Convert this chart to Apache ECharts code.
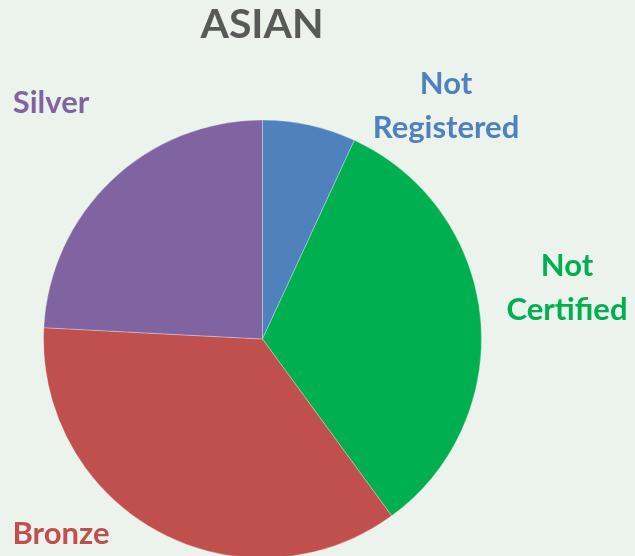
<!DOCTYPE html>
<html>
<head>
<meta charset="utf-8">
<script src="https://cdn.jsdelivr.net/npm/echarts@6/dist/echarts.min.js"></script>
<style>
  html, body { margin: 0; padding: 0; background: #ECF3EC; }
  #chart { width: 635px; height: 556px; }
</style>
</head>
<body>
<div id="chart"></div>
<script>
// slices, clockwise from 12 o'clock (share of total, %)
const categories = ['Not\nRegistered', 'Not\nCertified', 'Bronze', 'Silver'];
const shares = [6.9, 33.1, 35.9, 24.2];
const colors = ['#4F81BD', '#00B050', '#C0504D', '#8064A2'];

// where each label sits (label centre, px)
const labelPos = [[446, 106], [567, 288], [61, 534], [51, 103]];

const chart = echarts.init(document.getElementById('chart'));

const option = {
  backgroundColor: '#ECF3EC',
  title: {
    text: 'ASIAN',
    left: 262,
    top: 4,
    padding: 0,
    textAlign: 'center',
    textStyle: {
      fontFamily: 'Lato',
      fontWeight: 'bold',
      fontSize: 41,
      color: '#595959'
    }
  },
  series: [
    {
      type: 'pie',
      center: [262.5, 339],
      radius: 219,
      startAngle: 90,
      clockwise: true,
      animation: false,
      silent: true,
      itemStyle: {
        borderColor: 'rgba(255,255,255,0.5)',
        borderWidth: 0.6
      },
      label: {
        show: true,
        position: 'outside',
        formatter: '{b}',
        fontFamily: 'Lato',
        fontWeight: 'bold',
        fontSize: 31,
        lineHeight: 44,
        overflow: 'none',
        width: 200
      },
      labelLine: { show: false },
      labelLayout: function (params) {
        const p = labelPos[params.dataIndex];
        return { x: p[0], y: p[1], align: 'center', verticalAlign: 'middle' };
      },
      data: categories.map((name, i) => ({
        name: name,
        value: shares[i],
        itemStyle: { color: colors[i] },
        label: { color: colors[i] }
      }))
    }
  ]
};

chart.setOption(option);
</script>
</body>
</html>
